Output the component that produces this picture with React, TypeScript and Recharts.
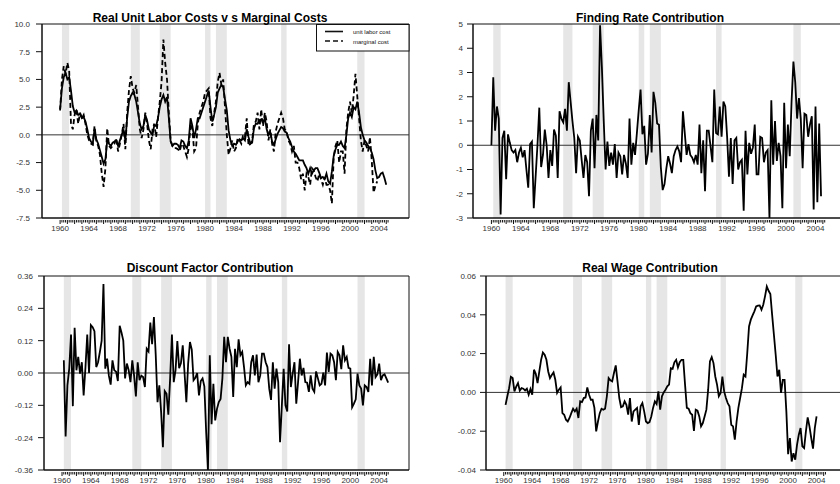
import React from "react";
import {
  LineChart,
  Line,
  XAxis,
  YAxis,
  ReferenceArea,
  ReferenceLine,
  Legend,
} from "recharts";

const FONT = '"Liberation Sans", Arial, Helvetica, sans-serif';
const INK = "#111";
const LABEL = "#333";
const SHADE = "#e6e6e6";

// Shared time axis (years, quarterly observations)
const X_DOMAIN: [number, number] = [1957.5, 2008.14];
const yearLabels = [1960, 1964, 1968, 1972, 1976, 1980, 1984, 1988, 1992, 1996, 2000, 2004];
const FIRST_TICK = 1960;
const LAST_TICK = 2005.25;
const quarterTicks: number[] = [];
for (let q = FIRST_TICK * 4; q <= LAST_TICK * 4; q++) quarterTicks.push(q / 4);

// NBER recessions, peak quarter start to trough quarter end
const recessionStart = [1960.25, 1969.75, 1973.75, 1980.0, 1981.5, 1990.5, 2001.0];
const recessionEnd = [1961.25, 1971.0, 1975.25, 1980.75, 1983.0, 1991.25, 2002.0];

// Real unit labor costs vs marginal costs (percent deviations), from 1960Q1
const ULC_START = 1960;
const unitLaborCost = [
  2.3, 4.2, 5.2, 5.6, 5.0, 5.2, 4.0, 2.6, 2.0, 2.2, 1.8, 1.9, 1.5, 1.6, 1.2, 0.5,
  -0.3, -0.6, -0.8, 0.5, -0.4, -0.8, -1.4, -2.0, -2.6, -2.2, -0.5, -0.8, -1.0, -0.7, -0.6, -0.5,
  -1.0, -0.5, 0.0, 0.5, -0.5, 1.5, 3.0, 3.5, 3.8, 3.6, 3.0, 2.0, 1.0, 0.5, 0.8, 1.8,
  1.3, 0.5, 0.2, 0.0, 0.9, 0.8, 1.5, 2.5, 3.2, 3.6, 3.0, 3.4, 1.5, -0.6, -1.0, -0.8,
  -0.8, -0.9, -1.2, -0.5, -0.6, -1.0, -1.2, -0.5, 1.5, 0.8, -0.3, 0.5, 1.5, 1.5, 2.0, 2.5,
  3.0, 3.5, 4.0, 2.5, 1.2, 1.8, 2.5, 3.8, 4.2, 4.5, 4.3, 3.2, 2.2, 0.4, -0.5, -1.0,
  -0.8, -0.9, -0.6, -0.4, -0.5, -0.3, -0.5, 0.5, -0.2, -0.8, -0.7, 0.6, 1.0, 1.0, 1.3, 1.4,
  1.1, 1.5, 0.5, 0.0, 0.2, -0.6, -0.9, -0.4, 0.1, 0.4, 0.7, 0.6, 0.3, 0.2, -0.3, -0.6,
  -1.1, -1.5, -1.7, -2.0, -2.3, -2.3, -2.3, -2.7, -3.0, -3.5, -3.0, -3.5, -3.2, -3.0, -3.0, -3.4,
  -3.9, -3.8, -4.0, -3.5, -4.2, -4.4, -3.3, -1.9, -1.3, -0.9, -0.9, -0.6, -1.0, -1.2, 0.0, 1.5,
  2.0, 1.6, 2.5, 2.3, 3.0, 2.0, 0.7, 0.0, -0.5, -0.7, -1.0, -1.2, -1.6, -2.2, -3.2, -3.9,
  -3.8, -3.5, -3.4, -3.9, -4.5,
];
const marginalCost = [
  2.2, 5.0, 6.2, 5.5, 6.5, 5.8, 1.0, 0.5, 1.8, 2.3, 1.0, 2.0, 1.5, 1.8, 1.0, 0.0,
  -0.5, -0.8, -0.9, 0.8, -0.6, -1.0, -1.8, -3.5, -4.7, -3.0, 0.6, -1.0, -1.2, -1.0, -0.8, -0.3,
  -1.5, -0.8, 0.0, 1.0, -1.3, 2.0, 4.0, 5.3, 4.2, 3.8, 4.5, 2.5, 0.5, -0.3, 0.5, 2.0,
  1.0, -0.5, -1.3, 0.5, 1.0, -0.2, 1.5, 3.0, 4.8, 8.6, 6.5, 5.0, 2.0, -0.5, -1.0, -1.2,
  -1.2, -1.3, -1.5, -0.8, -1.0, -1.5, -2.0, -1.2, 1.0, 0.5, -1.5, -1.2, 1.0, 2.0, 2.5, 3.0,
  3.8, 4.0, 4.2, 1.5, 0.8, 2.0, 3.0, 4.8, 5.6, 4.5, 5.0, 2.5, 0.0, -1.8, -1.2, -0.5,
  -1.5, -1.2, -0.3, -0.5, -0.8, 0.0, -0.2, 1.5, -1.0, -0.8, -0.5, 1.0, 1.2, 2.0, 0.5, 2.3,
  0.8, 2.0, 1.2, -0.5, 0.5, -0.8, -1.5, 0.3, 1.0, 1.5, 2.0, 1.5, 0.5, 0.3, -0.5, -0.8,
  -1.5, -1.0, -2.5, -2.5, -3.0, -4.0, -3.5, -5.0, -3.5, -3.8, -4.5, -3.0, -3.2, -3.8, -4.2, -3.5,
  -4.0, -4.5, -3.8, -4.5, -4.5, -5.0, -6.2, -2.0, -1.0, -0.5, -2.5, -1.5, -1.5, -3.5, 0.5, 2.0,
  3.0, 2.0, 3.5, 5.5, 3.5, 1.5, -0.5, -1.5, -0.5, -1.0, -1.5, -0.2, -2.3, -5.2, -4.6, -4.2,
];

// Finding rate contribution, from 1960Q1
const FR_START = 1960;
const findingRate = [
  0.0, 2.8, 0.6, 1.6, 1.1, -2.85, 0.3, 0.6, -1.4, 0.45, 0.1, -0.2, -0.3, -0.2, -0.7, -0.3,
  -0.1, -0.5, -0.2, -1.0, -1.75, 0.05, 0.15, -2.6, -1.3, 0.0, 1.55, -0.9, -0.4, 0.65, 0.0, -1.35,
  -0.2, -0.85, 0.65, 0.4, -1.35, 1.4, 1.1, 0.95, 1.5, 0.6, 2.6, 1.8, 1.0, 0.3, -1.15, 0.35,
  0.2, -0.6, -1.35, -0.4, -0.7, -2.1, 0.6, 1.1, -0.95, 1.25, 0.2, 4.95, 3.2, 1.0, -1.0, 0.15,
  -0.85, -0.3, -0.8, 0.05, -1.35, -0.3, -0.45, -1.2, -0.4, -0.75, -1.35, 1.1, -0.8, 0.1,
  -0.4, 0.5, 1.45, 2.3, 0.45, 0.8, -0.8, -0.35, 1.25, -0.3, 2.2, 1.75, 0.9, 0.85, -0.9, -1.85,
  -1.6, -0.95, -0.45, -0.75, -1.15, -0.45, -0.2, -0.05, -0.25, -0.7, 1.4, 0.5, -0.4, 0.05, -0.4, -0.5,
  -0.7, -0.4, -0.8, 0.85, -1.15, 0.2, -1.9, 0.6, 0.6, -0.05, -0.7, 2.3, 0.5, 0.45, 1.6, 0.35,
  1.8, 1.6, 0.35, -1.3, 0.3, -1.6, 0.2, 0.3, -1.0, -0.7, -0.6, -2.7, 0.6, -1.2, 0.1, -0.35,
  -0.1, 0.85, -1.2, -1.2, 0.35, 0.3, -0.7, -0.3, -0.2, -3.0, 1.85, -0.8, 1.0, -0.65, 0.1, -0.45,
  -2.6, 1.75, -0.95, 0.85, -0.45, 1.8, 3.45, 2.6, 1.1, 1.95, 1.1, -0.95, 1.3, 1.25, 0.35, 0.85,
  1.2, -2.65, 1.6, -2.35, 0.9, -2.1,
];

// Discount factor contribution, from 1960Q2
const DF_START = 1960.25;
const discountFactor = [
  0.047, -0.236, -0.046, 0.016, 0.143, -0.123, 0.168, 0.01, 0.06, -0.002, 0.04, -0.083, 0.02, 0.143, 0.0, 0.178,
  0.17, 0.155, 0.022, 0.04, 0.078, 0.12, 0.33, 0.016, 0.053, -0.01, -0.043, 0.047, 0.01, 0.005, -0.03, 0.175,
  0.15, 0.12, -0.02, 0.035, 0.01, -0.034, 0.047, -0.01, -0.087, 0.04, -0.027, -0.01, -0.015, -0.052, 0.09, 0.08,
  0.187, 0.107, 0.208, 0.068, -0.108, -0.046, -0.145, -0.275, -0.067, -0.077, -0.155, -0.02, 0.143, -0.034, 0.01, 0.119,
  0.018, 0.037, 0.103, 0.0, -0.108, 0.035, 0.115, 0.087, -0.027, -0.018, 0.0, -0.083, -0.03, -0.02, -0.05, -0.22,
  -0.36, 0.066, -0.19, -0.04, -0.176, -0.133, -0.108, -0.096, -0.02, 0.134, 0.04, 0.134, 0.09, 0.06, -0.089, 0.09,
  0.022, 0.125, 0.066, 0.078, 0.022, -0.046, -0.034, -0.04, 0.04, 0.066, -0.009, 0.068, -0.034, -0.009, 0.072, 0.072,
  0.04, 0.022, -0.058, -0.1, 0.04, -0.058, 0.016, -0.034, -0.257, -0.12, 0.016, -0.12, -0.143, 0.107, -0.052, -0.002,
  0.04, -0.114, -0.034, 0.053, -0.009, 0.019, -0.034, -0.036, -0.07, -0.009, -0.058, -0.07, 0.006, -0.02, -0.046, -0.04,
  0.001, -0.046, 0.076, 0.004, 0.072, 0.066, 0.04, -0.027, 0.078, 0.066, 0.014, 0.103, 0.047, 0.06, 0.019, 0.016,
  -0.127, -0.114, -0.098, -0.002, -0.046, -0.058, -0.12, -0.046, -0.052, -0.07, 0.053, -0.046, 0.06, -0.015, -0.005, 0.035,
  -0.027, -0.009, -0.005, -0.02, -0.036,
];

// Real wage contribution, from 1960Q2
const RW_START = 1960.25;
const realWage = [
  -0.0064, -0.002, 0.0022, 0.008, 0.0074, 0.0005, 0.003, 0.0048, 0.0009, 0.0022, 0.0019, 0.001, 0.0019, -0.0012, 0.0017, -0.0012,
  0.0117, 0.0096, 0.0048, 0.0108, 0.0168, 0.0206, 0.0194, 0.0168, 0.0108, 0.0074, 0.009, 0.0103, 0.0065, -0.0003, 0.0014, 0.0026,
  -0.0107, -0.0115, -0.0141, -0.015, -0.0132, -0.0107, -0.0084, -0.0098, -0.0084, -0.0132, -0.0046, -0.005, -0.0029, -0.0026, 0.0026, -0.0012,
  -0.0038, -0.0038, -0.008, -0.0201, -0.015, -0.0107, -0.0084, -0.0089, -0.0084, -0.002, 0.0074, 0.0062, 0.0057, 0.01, 0.0139, 0.0057,
  -0.0029, -0.0076, -0.0072, -0.0046, -0.0064, -0.0115, -0.0029, -0.015, -0.0098,
  -0.0089, -0.008, -0.0167, -0.0072, -0.0055, -0.0098, -0.015, -0.0158, -0.0153, -0.0124, -0.008, -0.0046, -0.006, 0.0005, -0.0089,
  -0.002, 0.0, 0.0014, 0.0031, 0.004, 0.0125, 0.0122, 0.0155, 0.0168, 0.0129, 0.0156, 0.0168, 0.0168, 0.004, -0.008, -0.0084,
  -0.0107, -0.0115, -0.0198, -0.0089, -0.0094, -0.0124, -0.0175, -0.0158, -0.0124, -0.0089, 0.0014, 0.016, 0.0182, 0.0151, 0.0082, 0.004,
  -0.002, -0.0003, 0.0082, 0.0005, -0.0029, -0.0055, -0.0072, -0.0167, -0.0175, -0.0244, -0.015, -0.008, -0.0029, 0.0022, 0.0091, 0.0082,
  0.0203, 0.034, 0.0375, 0.0397, 0.0418, 0.0443, 0.0447, 0.0448, 0.0426, 0.0452, 0.0495, 0.0546, 0.0524, 0.0507, 0.04, 0.0297,
  0.0194, 0.0082, 0.0117, -0.0003, 0.0065, 0.0065, -0.0098, -0.0318, -0.0235, -0.0356, -0.0313, -0.0347, -0.027, -0.0218, -0.0184, -0.0278,
  -0.0287, -0.0201, -0.0129, -0.0175, -0.0235, -0.029, -0.0184, -0.0124,
];

// Y-axis tick values
const ulcTicks = [10, 7.5, 5, 2.5, 0, -2.5, -5, -7.5];
const frTicks = [5, 4, 3, 2, 1, 0, -1, -2, -3];
const dfTicks = [0.36, 0.24, 0.12, 0, -0.12, -0.24, -0.36];
const rwTicks = [0.06, 0.04, 0.02, 0, -0.02, -0.04];

const seriesNames = ["unit labor cost", "marginal cost"];

const ulcData = unitLaborCost.map((v, i) => ({
  t: ULC_START + i / 4,
  ulc: v,
  mc: i < marginalCost.length ? marginalCost[i] : null,
}));
const frData = findingRate.map((v, i) => ({ t: FR_START + i / 4, v }));
const dfData = discountFactor.map((v, i) => ({ t: DF_START + i / 4, v }));
const rwData = realWage.map((v, i) => ({ t: RW_START + i / 4, v }));

function XTick(props: any) {
  const { x, y, payload, labelGap } = props;
  const v = payload.value as number;
  const isYear = Number.isInteger(v);
  const labelled = yearLabels.includes(v);
  return (
    <g>
      <line x1={x} x2={x} y1={y + 2} y2={y + (isYear ? 6 : 4.5)} stroke={INK} strokeWidth={1} />
      {labelled && (
        <text x={x} y={y + (labelGap ?? 12.5)} textAnchor="middle" fontSize={8} fill={LABEL} fontFamily={FONT}>
          {v}
        </text>
      )}
    </g>
  );
}

type LineDef = { key: string; name: string; dash?: string; width: number };

type PanelProps = {
  title: string;
  left: number;
  top: number;
  width: number;
  yAxisWidth: number;
  marginRight: number;
  yDomain: [number, number];
  yTicks: number[];
  digits: number;
  data: any[];
  lines: LineDef[];
  titleTop: number;
  labelGap?: number;
  tickMargin: number;
  legend?: boolean;
};

const PANEL_H = 242;

function renderLegend(lines: LineDef[]) {
  return (
    <svg width={94} height={28} style={{ display: "block" }}>
      <rect x={0.5} y={0.5} width={92.5} height={26.5} fill="#fff" stroke={INK} strokeWidth={1} />
      {lines.map((l, i) => (
        <g key={l.key}>
          <line
            x1={9}
            x2={27}
            y1={7.5 + i * 9.5}
            y2={7.5 + i * 9.5}
            stroke={INK}
            strokeWidth={1.6}
            strokeDasharray={l.dash}
          />
          <text x={37} y={10 + i * 9.5} fontSize={6} fill={INK} fontFamily={FONT}>
            {l.name}
          </text>
        </g>
      ))}
    </svg>
  );
}

function Panel(p: PanelProps) {
  const [yMin, yMax] = p.yDomain;
  return (
    <div style={{ position: "absolute", left: p.left, top: p.top, width: p.width, height: PANEL_H }}>
      <LineChart
        width={p.width}
        height={PANEL_H}
        data={p.data}
        margin={{ top: 24, right: p.marginRight, bottom: 0, left: 0 }}
      >
        <XAxis
          type="number"
          dataKey="t"
          domain={X_DOMAIN}
          ticks={quarterTicks}
          interval={0}
          allowDataOverflow
          height={24}
          tickSize={0}
          tickMargin={0}
          tickLine={false}
          axisLine={{ stroke: INK }}
          tick={(tp: any) => <XTick {...tp} labelGap={p.labelGap} />}
        />
        <YAxis
          type="number"
          domain={p.yDomain}
          ticks={p.yTicks}
          interval={0}
          allowDataOverflow
          width={p.yAxisWidth}
          tickSize={6}
          tickMargin={p.tickMargin}
          tickLine={{ stroke: INK }}
          axisLine={{ stroke: INK }}
          tick={{ fontSize: 8, fill: LABEL, fontFamily: FONT }}
          tickFormatter={(v: number) => v.toFixed(p.digits)}
        />
        {recessionStart.map((s, i) => (
          <ReferenceArea
            key={s}
            x1={s}
            x2={recessionEnd[i]}
            y1={yMin}
            y2={yMax}
            fill={SHADE}
            fillOpacity={1}
            stroke="none"
          />
        ))}
        <ReferenceArea
          x1={X_DOMAIN[0]}
          x2={X_DOMAIN[1]}
          y1={yMin}
          y2={yMax}
          fill="none"
          stroke={INK}
          strokeWidth={1}
        />
        <ReferenceLine y={0} stroke="#333" strokeWidth={1} />
        {p.lines.map((l) => (
          <Line
            key={l.key}
            type="linear"
            dataKey={l.key}
            name={l.name}
            stroke="#000"
            strokeWidth={l.width}
            strokeDasharray={l.dash}
            dot={false}
            activeDot={false}
            isAnimationActive={false}
            connectNulls={false}
          />
        ))}
        {p.legend && (
          <Legend
            layout="vertical"
            align="center"
            verticalAlign="middle"
            content={() => renderLegend(p.lines)}
            wrapperStyle={{ position: "absolute", left: 316, top: 24, width: 94, height: 28 }}
          />
        )}
      </LineChart>
      <div
        style={{
          position: "absolute",
          left: 0,
          top: p.titleTop,
          width: p.left === 0 ? 420 : 460,
          textAlign: "center",
          fontFamily: FONT,
          fontWeight: "bold",
          fontSize: 12,
          lineHeight: "12px",
          color: "#000",
          whiteSpace: "nowrap",
          pointerEvents: "none",
        }}
      >
        {p.title}
      </div>
    </div>
  );
}

export default function App() {
  return (
    <div
      style={{
        position: "absolute",
        left: 0,
        top: 0,
        width: 840,
        height: 484,
        overflow: "hidden",
        background: "#fff",
      }}
    >
      <Panel
        title="Real Unit Labor Costs v s Marginal Costs"
        left={0}
        top={0}
        width={420}
        yAxisWidth={42}
        marginRight={11}
        yDomain={[-7.5, 10]}
        yTicks={ulcTicks}
        digits={1}
        data={ulcData}
        lines={[
          { key: "ulc", name: seriesNames[0], width: 1.8 },
          { key: "mc", name: seriesNames[1], width: 1.8, dash: "5 3" },
        ]}
        titleTop={12}
        tickMargin={6}
        legend
      />
      <Panel
        title="Finding Rate Contribution"
        left={420}
        top={0}
        width={440}
        yAxisWidth={53}
        marginRight={14}
        yDomain={[-3, 5]}
        yTicks={frTicks}
        digits={0}
        data={frData}
        lines={[{ key: "v", name: "finding rate", width: 1.8 }]}
        titleTop={12}
        tickMargin={4}
      />
      <Panel
        title="Discount Factor Contribution"
        left={0}
        top={252}
        width={420}
        yAxisWidth={44}
        marginRight={11}
        yDomain={[-0.36, 0.36]}
        yTicks={dfTicks}
        digits={2}
        data={dfData}
        lines={[{ key: "v", name: "discount factor", width: 1.8 }]}
        titleTop={10}
        labelGap={13}
        tickMargin={5}
      />
      <Panel
        title="Real Wage Contribution"
        left={420}
        top={252}
        width={440}
        yAxisWidth={66}
        marginRight={14}
        yDomain={[-0.04, 0.06]}
        yTicks={rwTicks}
        digits={2}
        data={rwData}
        lines={[{ key: "v", name: "real wage", width: 1.8 }]}
        titleTop={10}
        labelGap={13}
        tickMargin={4}
      />
    </div>
  );
}
